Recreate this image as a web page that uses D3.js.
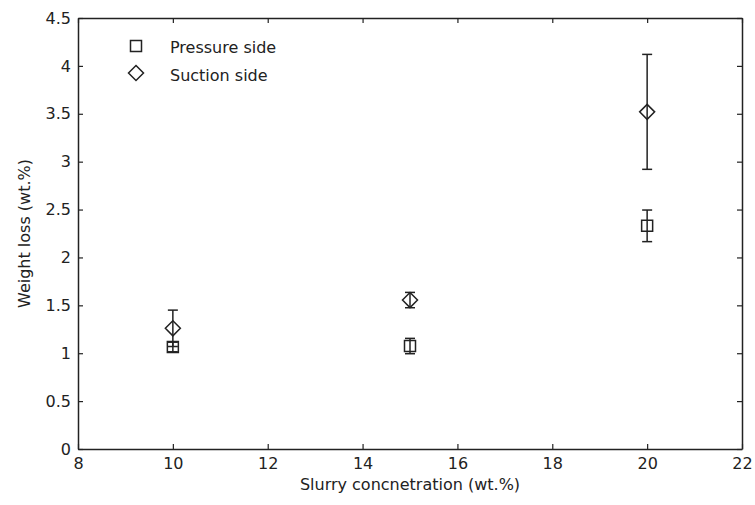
<!DOCTYPE html>
<html lang="en">
<head>
  <meta charset="UTF-8">
  <title>Weight loss vs slurry concentration</title>
  <style>
    body { margin: 0; background: #fff; }
    text { font-family: "DejaVu Sans", sans-serif; fill: #222; }
  </style>
</head>
<body>
  <script src="https://d3js.org/d3.v7.min.js"></script>
  <svg id="chart" width="755" height="505"></svg>
  <script>
    // data
    const conc = [10, 15, 20];
    const pressure = [1.065, 1.075, 2.33];
    const pressureErr = [0.05, 0.08, 0.165];
    const suction = [1.26, 1.555, 3.52];
    const suctionErr = [0.19, 0.08, 0.6];
    const xTicks = [8, 10, 12, 14, 16, 18, 20, 22];
    const yTicks = [0, 0.5, 1, 1.5, 2, 2.5, 3, 3.5, 4, 4.5];

    const margin = { top: 18, right: 13, bottom: 56, left: 78 };
    const width = 755 - margin.left - margin.right;
    const height = 505 - margin.top - margin.bottom;
    const ink = "#222";

    const svg = d3.select("svg#chart")
      .append("g")
      .attr("transform", "translate(" + margin.left + "," + margin.top + ")");

    const x = d3.scaleLinear().domain([8, 22]).range([0, width]);
    const y = d3.scaleLinear().domain([0, 4.5]).range([height, 0]);

    // axes with inward ticks on all four sides (matlab style box)
    const fmt = d => String(d);
    svg.append("g")
      .attr("transform", "translate(0," + height + ")")
      .call(d3.axisBottom(x).tickValues(xTicks).tickFormat(fmt).tickSizeInner(-5).tickSizeOuter(0).tickPadding(9));
    svg.append("g")
      .call(d3.axisLeft(y).tickValues(yTicks).tickFormat(fmt).tickSizeInner(-5).tickSizeOuter(0).tickPadding(7));
    svg.append("g")
      .call(d3.axisTop(x).tickValues(xTicks).tickFormat("").tickSizeInner(-5).tickSizeOuter(0));
    svg.append("g")
      .attr("transform", "translate(" + width + ",0)")
      .call(d3.axisRight(y).tickValues(yTicks).tickFormat("").tickSizeInner(-5).tickSizeOuter(0));

    svg.selectAll(".domain").attr("stroke", ink).attr("stroke-width", 1.5);
    svg.selectAll(".tick line").attr("stroke", ink).attr("stroke-width", 1.2);
    svg.selectAll(".tick text")
      .style("font-family", '"DejaVu Sans", sans-serif')
      .style("font-size", "16px").attr("fill", ink);

    // error bars
    function errorBars(vals, errs) {
      const g = svg.append("g").attr("stroke", ink).attr("stroke-width", 1.5).attr("fill", "none");
      conc.forEach(function (c, i) {
        const cx = x(c);
        const y1 = y(vals[i] + errs[i]);
        const y0 = y(vals[i] - errs[i]);
        g.append("line").attr("x1", cx).attr("x2", cx).attr("y1", y1).attr("y2", y0);
        g.append("line").attr("x1", cx - 5).attr("x2", cx + 5).attr("y1", y1).attr("y2", y1);
        g.append("line").attr("x1", cx - 5).attr("x2", cx + 5).attr("y1", y0).attr("y2", y0);
      });
    }
    errorBars(pressure, pressureErr);
    errorBars(suction, suctionErr);

    const squarePath = "M-5.5,-5.5H5.5V5.5H-5.5Z";
    const diamondPath = "M0,-7.5L7.5,0L0,7.5L-7.5,0Z";

    svg.selectAll(".pressure")
      .data(conc)
      .enter().append("path")
      .attr("d", squarePath)
      .attr("transform", (d, i) => "translate(" + x(d) + "," + y(pressure[i]) + ")")
      .attr("fill", "none").attr("stroke", ink).attr("stroke-width", 1.5);

    svg.selectAll(".suction")
      .data(conc)
      .enter().append("path")
      .attr("d", diamondPath)
      .attr("transform", (d, i) => "translate(" + x(d) + "," + y(suction[i]) + ")")
      .attr("fill", "none").attr("stroke", ink).attr("stroke-width", 1.5);

    // legend
    const legend = svg.append("g").attr("transform", "translate(58,28)");
    legend.append("path").attr("d", squarePath).attr("fill", "none").attr("stroke", ink).attr("stroke-width", 1.5);
    legend.append("text").attr("x", 34).attr("y", 7).style("font-size", "16px").text("Pressure side");
    legend.append("path").attr("d", diamondPath).attr("transform", "translate(0,27)")
      .attr("fill", "none").attr("stroke", ink).attr("stroke-width", 1.5);
    legend.append("text").attr("x", 34).attr("y", 35).style("font-size", "16px").text("Suction side");

    // axis labels
    svg.append("text")
      .attr("text-anchor", "middle")
      .attr("x", width / 2)
      .attr("y", height + 41)
      .style("font-size", "16px")
      .text("Slurry concnetration (wt.%)");

    svg.append("text")
      .attr("text-anchor", "middle")
      .attr("transform", "rotate(-90)")
      .attr("x", -height / 2)
      .attr("y", -48)
      .style("font-size", "16px")
      .text("Weight loss (wt.%)");
  </script>
</body>
</html>
